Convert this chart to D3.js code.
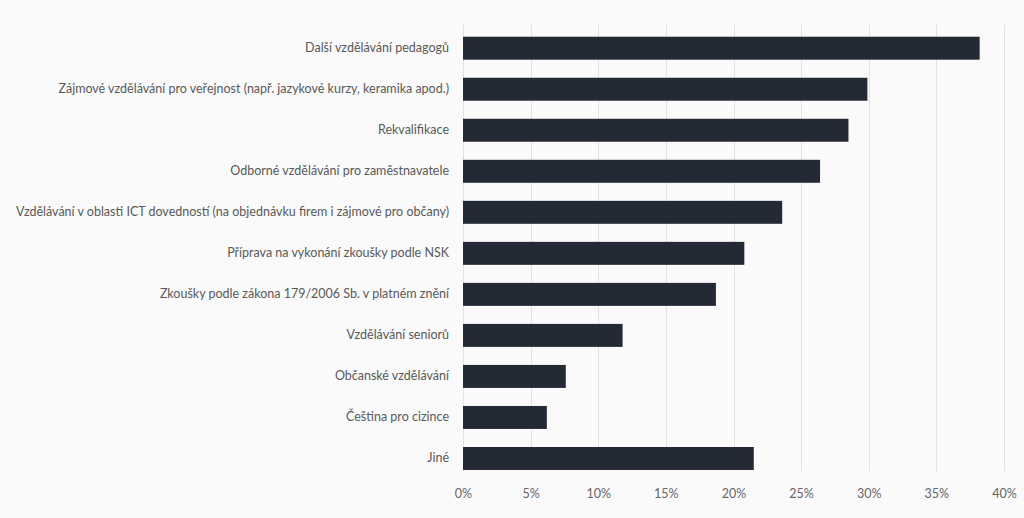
<!DOCTYPE html>
<html>
<head>
<meta charset="utf-8">
<script src="https://cdn.jsdelivr.net/npm/d3@7"></script>
<style>
  html, body { margin: 0; padding: 0; background: #fafafa; }
  svg { display: block; }
  text { font-family: Lato, "Open Sans", sans-serif; }
</style>
</head>
<body>
<svg id="chart" width="1024" height="518"></svg>
<script>
const categories = [
  "Další vzdělávání pedagogů",
  "Zájmové vzdělávání pro veřejnost (např. jazykové kurzy, keramika apod.)",
  "Rekvalifikace",
  "Odborné vzdělávání pro zaměstnavatele",
  "Vzdělávání v oblasti ICT dovedností (na objednávku firem i zájmové pro občany)",
  "Příprava na vykonání zkoušky podle NSK",
  "Zkoušky podle zákona 179/2006 Sb. v platném znění",
  "Vzdělávání seniorů",
  "Občanské vzdělávání",
  "Čeština pro cizince",
  "Jiné"
];
const values = [38.2, 29.9, 28.5, 26.4, 23.6, 20.8, 18.7, 11.8, 7.6, 6.2, 21.5];
const tickValues = [0, 5, 10, 15, 20, 25, 30, 35, 40];
const tickLabels = ["0%", "5%", "10%", "15%", "20%", "25%", "30%", "35%", "40%"];

const svg = d3.select("#chart");
svg.append("rect").attr("width", 1024).attr("height", 518).attr("fill", "#fafafa");

const x = d3.scaleLinear().domain([0, 40]).range([463, 1004]);
const y = d3.scaleBand().domain(categories).range([27.7, 479]).paddingInner(0.44).paddingOuter(0.22);

const gridTop = 25, gridBottom = 471;

// gridlines
svg.append("g").selectAll("line").data(tickValues).join("line")
  .attr("x1", d => Math.round(x(d)) + 0.5).attr("x2", d => Math.round(x(d)) + 0.5)
  .attr("y1", gridTop).attr("y2", gridBottom)
  .attr("stroke", "#e2e2e2").attr("stroke-width", 1);

// bars
svg.append("g").selectAll("rect").data(categories).join("rect")
  .attr("x", x(0))
  .attr("y", d => y(d))
  .attr("width", (d, i) => x(values[i]) - x(0))
  .attr("height", y.bandwidth())
  .attr("fill", "#232a35");

// category labels
const yAxis = d3.axisLeft(y).tickSize(0).tickPadding(14);
const gy = svg.append("g").attr("transform", `translate(${x(0)},0)`).call(yAxis);
gy.select(".domain").remove();
gy.selectAll("text").attr("fill", "#595959").style("font-size", "12.5px")
  .style("font-family", "Lato, 'Open Sans', sans-serif");

// x axis labels
const xAxis = d3.axisBottom(x).tickValues(tickValues).tickFormat((d, i) => tickLabels[i]).tickSize(0).tickPadding(0);
const gx = svg.append("g").attr("transform", `translate(0,${489})`).call(xAxis);
gx.select(".domain").remove();
gx.selectAll("text").attr("fill", "#666666").style("font-size", "12.5px")
  .style("font-family", "Lato, 'Open Sans', sans-serif");
</script>
</body>
</html>
